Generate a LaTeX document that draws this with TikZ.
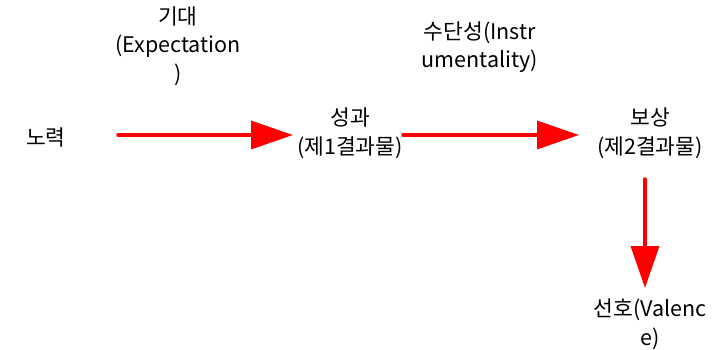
\documentclass[tikz,border=0pt]{standalone}
\usepackage{fontspec}
\setmainfont{Noto Sans CJK KR}
\usetikzlibrary{arrows.meta}
\begin{document}
\begin{tikzpicture}[x=1pt,y=-1pt,
  lbl/.style={font=\fontsize{21.5}{28.5}\selectfont, align=center, inner sep=0pt},
  redarrow/.style={draw=red, line width=3.5pt, -{Triangle[length=42pt,width=28pt]}, line cap=round}]
\useasboundingbox (0,0) rectangle (724,349);
\node[lbl] (effort) at (46,137) {노력};
\node[lbl] (expect) at (178,46) {기대\\(Expectation\\)};
\node[lbl] (perf) at (350,133) {성과\\(제1결과물)};
\node[lbl] (instr) at (480,47) {수단성(Instr\\umentality)};
\node[lbl] (reward) at (650,133) {보상\\(제2결과물)};
\node[lbl] (val) at (650,324) {선호(Valenc\\e)};
\coordinate (a1s) at (118,135);
\coordinate (a1e) at (293,135);
\coordinate (a2s) at (403,135);
\coordinate (a2e) at (579,135);
\coordinate (a3s) at (645,179);
\coordinate (a3e) at (645,288);
\draw[redarrow] (a1s) -- (a1e);
\draw[redarrow] (a2s) -- (a2e);
\draw[redarrow] (a3s) -- (a3e);
\end{tikzpicture}
\end{document}
